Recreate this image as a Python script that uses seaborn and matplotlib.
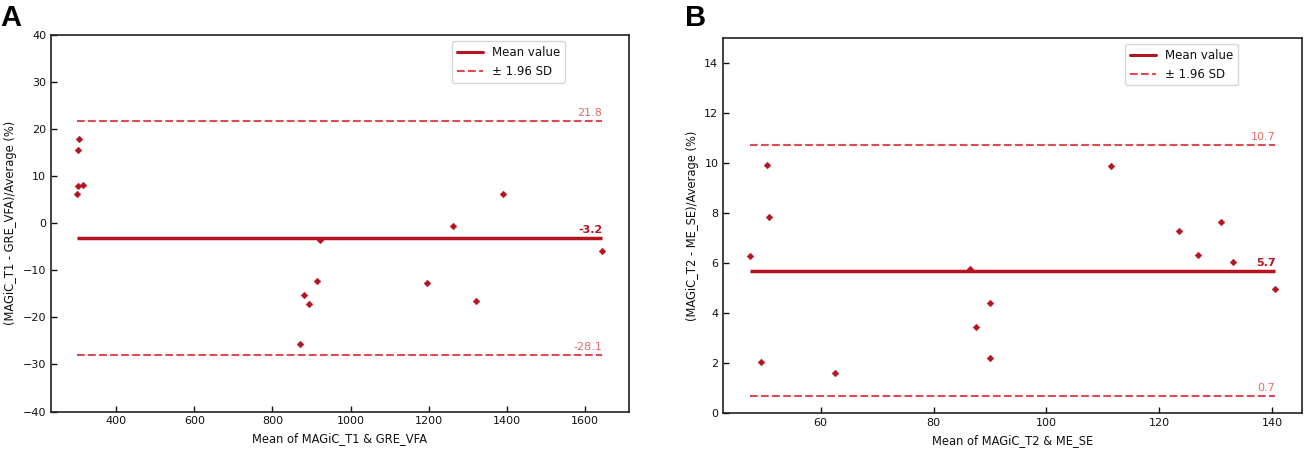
import numpy as np
import pandas as pd
import matplotlib
matplotlib.use("Agg")
import matplotlib.pyplot as plt
import seaborn as sns
from matplotlib.lines import Line2D

# ---------------- data ----------------
# Panel A: MAGiC_T1 vs GRE_VFA
a_mean_vals = [300, 301, 302, 305, 314, 870, 881, 893, 913, 922,
               1195, 1261, 1320, 1390, 1645]
a_diff_vals = [6.2, 15.5, 7.9, 17.9, 8.2, -25.6, -15.3, -17.1, -12.3, -3.6,
               -12.6, -0.6, -16.5, 6.3, -5.9]
a_stats = [-3.2, 21.8, -28.1]   # mean, upper, lower

# Panel B: MAGiC_T2 vs ME_SE
b_mean_vals = [47.4, 50.4, 50.9, 49.5, 62.5, 86.5, 87.6, 90.1, 90.1, 111.5,
               123.5, 126.9, 131.0, 133.1, 140.6]
b_diff_vals = [6.3, 9.9, 7.85, 2.03, 1.61, 5.78, 3.44, 4.40, 2.22, 9.87,
               7.30, 6.32, 7.65, 6.03, 4.98]
b_stats = [5.7, 10.7, 0.7]

xlabels = ["Mean of MAGiC_T1 & GRE_VFA", "Mean of MAGiC_T2 & ME_SE"]
ylabels = ["(MAGiC_T1 - GRE_VFA)/Average (%)", "(MAGiC_T2 - ME_SE)/Average (%)"]
panel_letters = ["A", "B"]
legend_labels = ["Mean value", "± 1.96 SD"]

# ---------------- style ----------------
sns.set_theme(style="white")
plt.rcParams["font.family"] = ["DejaVu Sans"]

PT_COLOR = "#b3141f"
MEAN_COLOR = "#b3141f"
SD_COLOR = "#e04a52"
SD_TEXT = "#e06a6a"
TXT = "#111111"

fig = plt.figure(figsize=(13.04, 4.51), dpi=100)
W, H = 1304, 451
axA = fig.add_axes([51 / W, (H - 411.5) / H, 577.7 / W, 376.5 / H])
axB = fig.add_axes([723.3 / W, (H - 413.3) / H, 578.4 / W, 375.6 / H])


def draw(ax, xs, ys, stats, xlabel, ylabel, ylim, yticks):
    df = pd.DataFrame({"x": xs, "y": ys})
    sns.scatterplot(data=df, x="x", y="y", ax=ax, marker="D", s=12,
                    color=PT_COLOR, edgecolor=PT_COLOR, linewidth=0.3,
                    zorder=3, legend=False)
    x0, x1 = min(xs), max(xs)
    mean, up, lo = stats
    ax.plot([x0, x1], [mean, mean], color=MEAN_COLOR, lw=2.5, solid_capstyle="butt")
    ax.plot([x0, x1], [up, up], color=SD_COLOR, lw=1.5, ls="--")
    ax.plot([x0, x1], [lo, lo], color=SD_COLOR, lw=1.5, ls="--")
    span = ylim[1] - ylim[0]
    off = span * 0.008
    ax.text(x1, up + off, f"{up:.1f}", color=SD_TEXT, fontsize=8,
            ha="right", va="bottom")
    ax.text(x1, lo + off, f"{lo:.1f}", color=SD_TEXT, fontsize=8,
            ha="right", va="bottom")
    ax.text(x1, mean + off, f"{mean:.1f}", color=MEAN_COLOR, fontsize=8,
            fontweight="bold", ha="right", va="bottom")
    pad = (x1 - x0) * 0.05
    ax.set_xlim(x0 - pad, x1 + pad)
    ax.set_ylim(*ylim)
    ax.set_yticks(yticks)
    ax.set_xlabel(xlabel, fontsize=8.3, color=TXT)
    ax.set_ylabel(ylabel, fontsize=8.3, color=TXT)
    ax.tick_params(axis="both", direction="in", length=4, width=1,
                   labelsize=8, colors=TXT, left=True, bottom=True)
    for s in ax.spines.values():
        s.set_color("#222222")
        s.set_linewidth(1.2)
    handles = [Line2D([], [], color=MEAN_COLOR, lw=2.2),
               Line2D([], [], color=SD_COLOR, lw=1.5, ls="--")]
    leg = ax.legend(handles, legend_labels, loc="upper right",
                    bbox_to_anchor=(0.89, 0.983), borderaxespad=0,
                    fontsize=8.5, frameon=True, fancybox=True,
                    handlelength=2.2)
    for t in leg.get_texts():
        t.set_color(TXT)
    leg.get_frame().set_edgecolor("#cccccc")
    leg.get_frame().set_linewidth(1.0)


draw(axA, a_mean_vals, a_diff_vals, a_stats, xlabels[0], ylabels[0],
     (-40, 40), np.arange(-40, 41, 10))
draw(axB, b_mean_vals, b_diff_vals, b_stats, xlabels[1], ylabels[1],
     (0, 15), np.arange(0, 15, 2))

fig.text(0 / W, 1 - 4 / H, panel_letters[0], fontsize=21, fontweight="bold",
         family=["Liberation Sans"], color="black", ha="left", va="top")
fig.text(685 / W, 1 - 4 / H, panel_letters[1], fontsize=21, fontweight="bold",
         family=["Liberation Sans"], color="black", ha="left", va="top")

fig.savefig("out.png", dpi=100)
